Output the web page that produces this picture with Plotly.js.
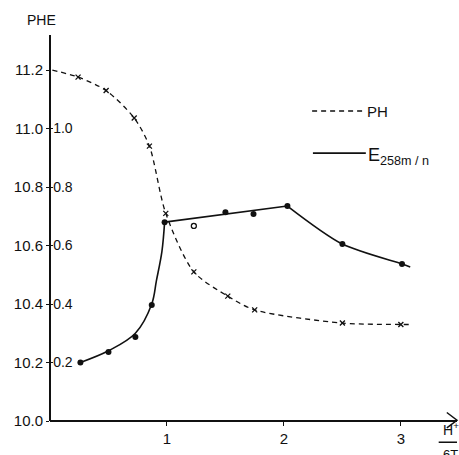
<!DOCTYPE html>
<html>
<head>
<meta charset="utf-8">
<script src="https://cdn.plot.ly/plotly-3.0.1.min.js"></script>
<style>
html,body{margin:0;padding:0;background:#fff;}
#chart{width:459px;height:455px;}
</style>
</head>
<body>
<div id="chart"></div>
<script>
// PH series (dashed line, x markers)
const phX = [0.02, 0.24, 0.48, 0.72, 0.85, 0.99, 1.23, 1.52, 1.75, 2.5, 3.0];
const phY = [11.2, 11.176, 11.13, 11.036, 10.94, 10.71, 10.51, 10.427, 10.38, 10.335, 10.33];
const phLineEndX = [3.0, 3.08];
const phLineEndY = [10.33, 10.33];

// E258m/n series (solid line, dot markers), plotted on PHE scale (E + 10)
const eX = [0.26, 0.50, 0.73, 0.87, 0.98, 1.50, 1.74, 2.03, 2.50, 3.01];
const eY = [10.20, 10.236, 10.287, 10.397, 10.68, 10.714, 10.708, 10.735, 10.605, 10.537];
const eOpenX = [1.23];
const eOpenY = [10.667];
// line segments of the E curve
const eCurve1X = [0.26, 0.50, 0.73, 0.87, 0.91, 0.957, 0.98];
const eCurve1Y = [10.20, 10.24, 10.30, 10.40, 10.48, 10.58, 10.68];
const eStraightX = [0.98, 2.03];
const eStraightY = [10.68, 10.735];
const eCurve2X = [2.03, 2.50, 3.01, 3.08];
const eCurve2Y = [10.735, 10.605, 10.537, 10.527];

const leftTicks = [10.0, 10.2, 10.4, 10.6, 10.8, 11.0, 11.2];
const leftTickText = ['10.0', '10.2', '10.4', '10.6', '10.8', '11.0', '11.2'];
const innerTicks = [0.2, 0.4, 0.6, 0.8, 1.0];
const innerTickText = ['0.2', '0.4', '0.6', '0.8', '1.0'];
const xTicks = [1, 2, 3];
const xTickText = ['1', '2', '3'];

const fnt = 'Liberation Sans, Arial, sans-serif';

const traces = [
  {x: phX.concat(phLineEndX.slice(1)), y: phY.concat(phLineEndY.slice(1)), mode: 'lines', line: {color: '#111', width: 1.3, dash: '5px,4px', shape: 'spline', smoothing: 0.8}, hoverinfo: 'skip'},
  {x: phX.slice(1), y: phY.slice(1), mode: 'markers', marker: {symbol: 'x-thin', size: 5, line: {color: '#111', width: 1.3}}},
  {x: eCurve1X, y: eCurve1Y, mode: 'lines', line: {color: '#111', width: 1.6, shape: 'spline', smoothing: 1}},
  {x: eStraightX, y: eStraightY, mode: 'lines', line: {color: '#111', width: 1.6}},
  {x: eCurve2X, y: eCurve2Y, mode: 'lines', line: {color: '#111', width: 1.6, shape: 'spline', smoothing: 0.8}},
  {x: eX, y: eY, mode: 'markers', marker: {symbol: 'circle', size: 6, color: '#111'}},
  {x: eOpenX, y: eOpenY, mode: 'markers', marker: {symbol: 'circle-open', size: 5, color: '#111', line: {width: 1.3}}},
  {x: [0], y: [10.0], yaxis: 'y2', mode: 'markers', marker: {opacity: 0}, hoverinfo: 'skip'}
];

const layout = {
  width: 459, height: 455,
  margin: {l: 50, r: 2, t: 35, b: 34},
  paper_bgcolor: '#fff', plot_bgcolor: '#fff',
  showlegend: false,
  font: {family: fnt, color: '#111'},
  xaxis: {
    range: [0, 3.48], showgrid: false, zeroline: false,
    showline: false,
    tickmode: 'array', tickvals: xTicks, ticktext: xTickText,
    ticks: 'outside', ticklen: 4, tickcolor: '#111', tickwidth: 1,
    tickfont: {size: 15, family: fnt, color: '#111'}
  },
  yaxis: {
    range: [10.0, 11.32], showgrid: false, zeroline: false,
    showline: false,
    tickmode: 'array', tickvals: leftTicks, ticktext: leftTickText,
    ticks: 'outside', ticklen: 3, tickcolor: '#111', tickwidth: 1,
    tickfont: {size: 15, family: fnt, color: '#111'}
  },
  yaxis2: {
    overlaying: 'y', side: 'left', range: [0.0, 1.32],
    showgrid: false, zeroline: false, showline: false,
    tickmode: 'array', tickvals: innerTicks, ticktext: innerTickText,
    ticks: 'inside', ticklen: 3, tickcolor: '#111',
    ticklabelposition: 'inside',
    tickfont: {size: 14, family: fnt, color: '#111'}
  },
  shapes: [
    {type: 'line', xref: 'paper', yref: 'paper', x0: 0, x1: 0, y0: 0, y1: 1, line: {color: '#111', width: 2}},
    {type: 'line', xref: 'paper', yref: 'paper', x0: 0, x1: 1, y0: 0, y1: 0, line: {color: '#111', width: 2}},
    {type: 'path', xref: 'paper', yref: 'paper', path: 'M 0.975 0.022 L 1 0.002 L 0.975 -0.018', line: {color: '#111', width: 1.5}},
    {type: 'line', xref: 'paper', yref: 'paper', x0: 0.644, x1: 0.772, y0: 0.803, y1: 0.803, line: {color: '#111', width: 1.5, dash: '5px,4px'}},
    {type: 'line', xref: 'paper', yref: 'paper', x0: 0.646, x1: 0.776, y0: 0.694, y1: 0.694, line: {color: '#111', width: 1.6}},
    {type: 'line', xref: 'paper', yref: 'paper', x0: 0.955, x1: 1.0, y0: -0.055, y1: -0.055, line: {color: '#111', width: 1.5}}
  ],
  annotations: [
    {text: 'PHE', xref: 'paper', yref: 'paper', x: -0.022, y: 1.039, xanchor: 'center', yanchor: 'middle', showarrow: false, font: {size: 14, family: fnt, color: '#111'}},
    {text: 'PH', xref: 'paper', yref: 'paper', x: 0.774, y: 0.803, xanchor: 'left', yanchor: 'middle', showarrow: false, font: {size: 15, family: fnt, color: '#111'}},
    {text: 'E<sub>258m / n</sub>', xref: 'paper', yref: 'paper', x: 0.776, y: 0.686, xanchor: 'left', yanchor: 'middle', showarrow: false, font: {size: 18, family: fnt, color: '#111'}},
    {text: 'H<sup>+</sup>', xref: 'paper', yref: 'paper', x: 0.985, y: -0.05, xanchor: 'center', yanchor: 'bottom', showarrow: false, font: {size: 14, family: fnt, color: '#111'}},
    {text: '6T<sub>0</sub>', xref: 'paper', yref: 'paper', x: 0.99, y: -0.062, xanchor: 'center', yanchor: 'top', showarrow: false, font: {size: 13, family: fnt, color: '#111'}}
  ]
};

Plotly.newPlot('chart', traces, layout, {staticPlot: true, displayModeBar: false});
</script>
</body>
</html>
